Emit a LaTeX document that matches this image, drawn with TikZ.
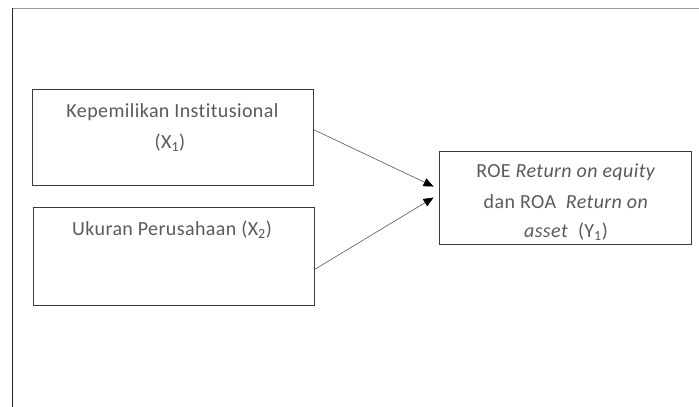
\documentclass[tikz,border=0pt]{standalone}
\usepackage{fontspec}
\setmainfont{Carlito}[LetterSpace=2,Ligatures={NoCommon,NoRare,NoContextual}]
\usetikzlibrary{arrows.meta,calc}
\definecolor{txtgray}{HTML}{5A5A5A}
\definecolor{boxline}{HTML}{3A3A3A}
\definecolor{arrline}{HTML}{555555}
\definecolor{topline}{HTML}{9A9A9A}
\tikzset{
  x=1pt,y=-1pt,
  box/.style={draw=boxline,line width=0.9pt,rectangle,inner sep=0pt},
  lbl/.style={anchor=base,inner sep=0pt,text=txtgray,font=\fontsize{20}{23}\selectfont},
  conn/.style={draw=arrline,line width=0.6pt,-{Triangle[length=10pt,width=8.5pt,color=black]}},
}
\begin{document}
\begin{tikzpicture}
\useasboundingbox (0,0) rectangle (699,407);
% frame
\coordinate (fTL) at (12,8);
\coordinate (fTR) at (699,8);
\coordinate (fBL) at (12,407);
\draw[topline,line width=1pt] (fTL) -- (fTR);
\draw[black!85,line width=1pt] (fTL) -- (fBL);
% boxes
\node[box,minimum width=281pt,minimum height=96pt] (b1) at (172.5,137) {};
\node[box,minimum width=281pt,minimum height=98pt] (b2) at (173.5,256) {};
\node[box,minimum width=252pt,minimum height=93pt] (b3) at (565,197.5) {};
% labels
\node[lbl] (l1a) at (172.5,117) {Kepemilikan Institusional};
\node[lbl] (l1b) at (170,148) {(X\textsubscript{1})};
\node[lbl] (l2a) at (172,235) {Ukuran Perusahaan (X\textsubscript{2})};
\node[lbl] (l3a) at (566,177) {ROE \textit{Return on equity}};
\node[lbl] (l3b) at (566,208) {dan ROA\ \ \textit{Return on}};
\node[lbl] (l3c) at (566,237) {\textit{asset}\ \ (Y\textsubscript{1})};
% connectors
\coordinate (s1) at ($(b1.north east)+(0,41)$);
\coordinate (s2) at ($(b2.north east)+(0,63)$);
\coordinate (t1) at ($(b3.north west)+(-5,36)$);
\coordinate (t2) at ($(b3.north west)+(-5,47)$);
\draw[conn] (s1) -- (t1);
\draw[conn] (s2) -- (t2);
\end{tikzpicture}
\end{document}
